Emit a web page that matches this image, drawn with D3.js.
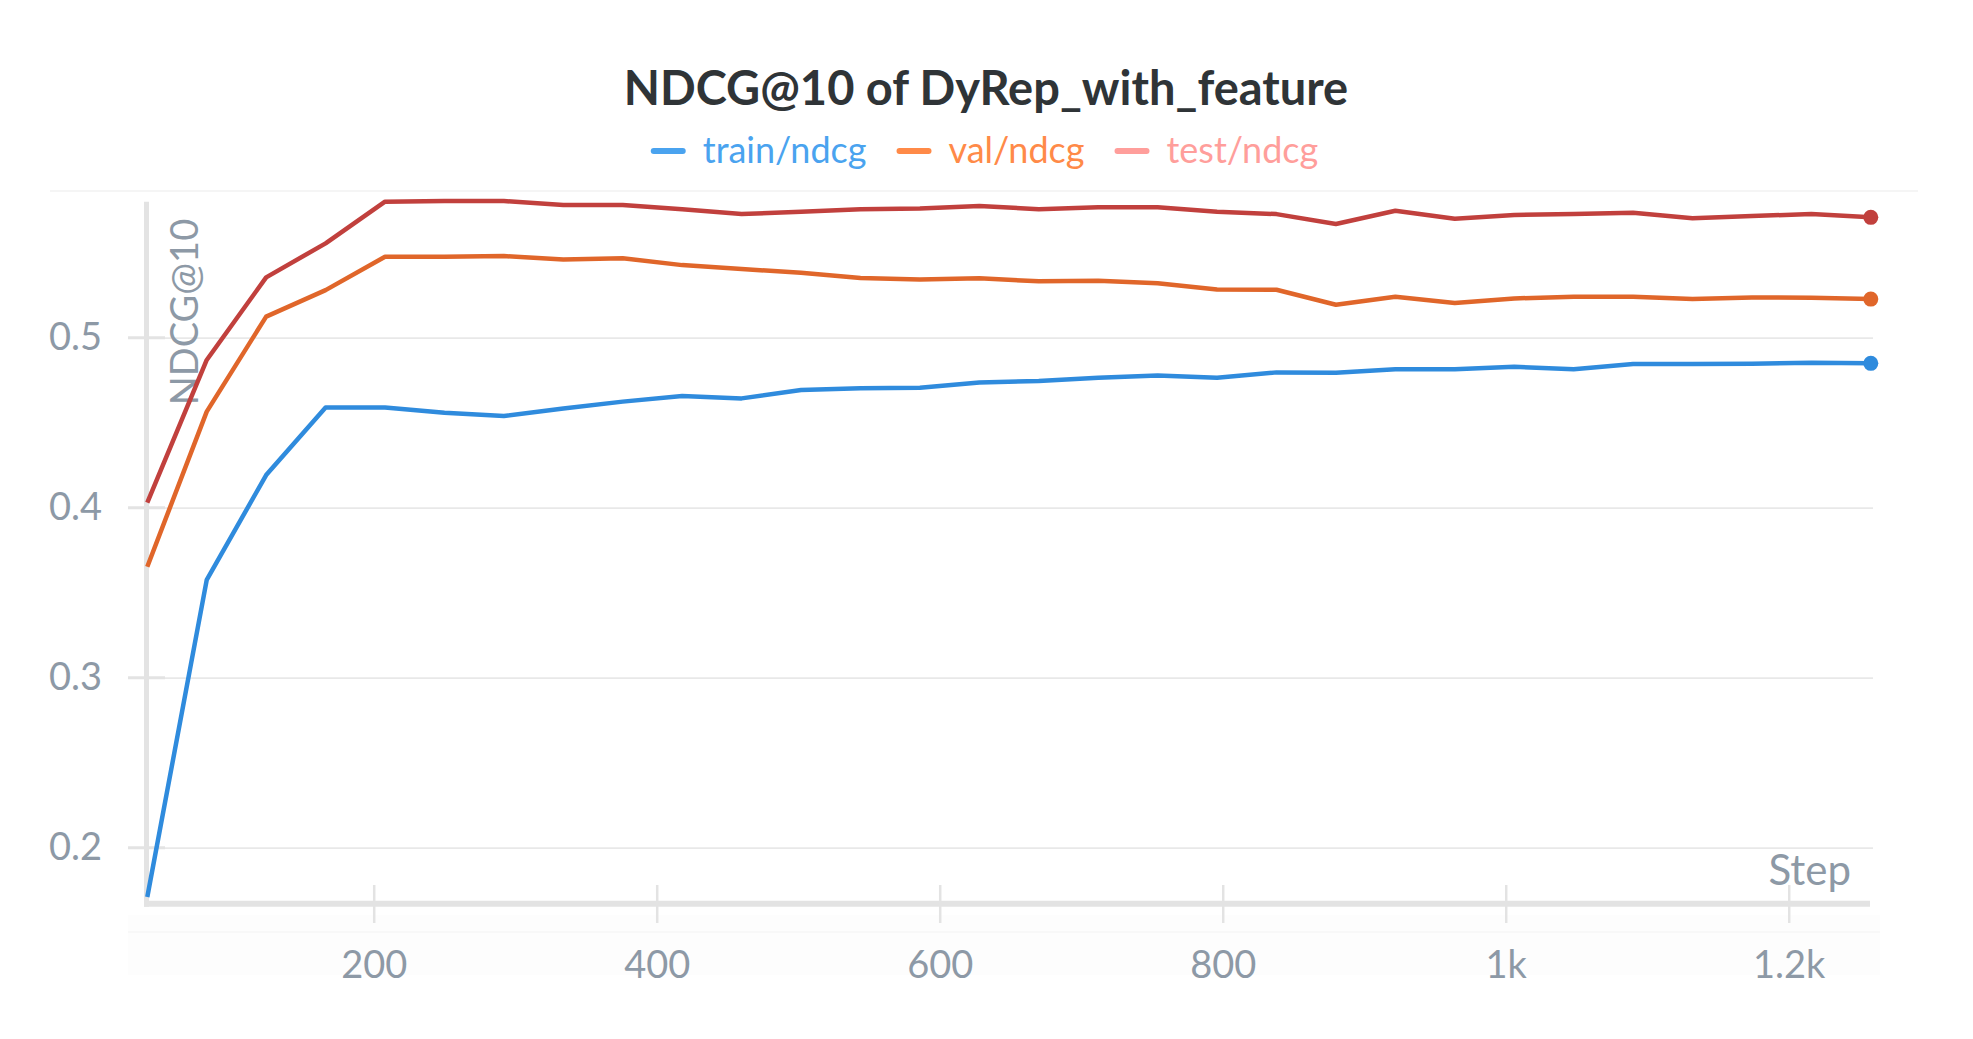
<!DOCTYPE html>
<html><head><meta charset="utf-8">
<script src="https://cdn.jsdelivr.net/npm/d3@7"></script>
<style>html,body{margin:0;padding:0;background:#fff;} svg{display:block}</style>
</head><body>
<script>
const chartTitle = "NDCG@10 of DyRep_with_feature";
const seriesNames = ["train/ndcg", "val/ndcg", "test/ndcg"];
const steps = [40, 82, 124, 166, 208, 250, 292, 334, 376, 418, 460, 502, 544, 586, 628, 670, 712, 754, 796, 838, 880, 922, 964, 1006, 1048, 1090, 1132, 1174, 1216, 1258];
const trainNdcg = [0.171, 0.3575, 0.4192, 0.459, 0.459, 0.4559, 0.4539, 0.4584, 0.4624, 0.4657, 0.4643, 0.4692, 0.4702, 0.4706, 0.4737, 0.4745, 0.4765, 0.4778, 0.4765, 0.4796, 0.4794, 0.4814, 0.4814, 0.4829, 0.4814, 0.4845, 0.4845, 0.4847, 0.4853, 0.4849];
const valNdcg = [0.3653, 0.4565, 0.5124, 0.528, 0.5476, 0.5476, 0.548, 0.546, 0.5467, 0.5427, 0.5404, 0.5382, 0.5351, 0.5343, 0.5349, 0.5332, 0.5335, 0.532, 0.5284, 0.5282, 0.5194, 0.5241, 0.5204, 0.5231, 0.5241, 0.5241, 0.5227, 0.5237, 0.5235, 0.5227];
const testNdcg = [0.403, 0.4869, 0.5355, 0.5555, 0.580, 0.5804, 0.5804, 0.578, 0.578, 0.5755, 0.5727, 0.5741, 0.5755, 0.576, 0.5775, 0.5756, 0.5767, 0.5767, 0.5741, 0.5727, 0.5669, 0.5747, 0.570, 0.5722, 0.5727, 0.5735, 0.5702, 0.5716, 0.5727, 0.5708];
const xTickValues = [200, 400, 600, 800, 1000, 1200];
const xTickLabels = ["200", "400", "600", "800", "1k", "1.2k"];
const yTickValues = [0.2, 0.3, 0.4, 0.5];
const yTickLabels = ["0.2", "0.3", "0.4", "0.5"];
const yAxisTitle = "NDCG@10";
const xAxisTitle = "Step";

(function () {
const W = 1973, H = 1039;
const FONT = "Lato, 'Open Sans', sans-serif";
const lineColors = ["#2f8bdd", "#e0662a", "#c1403d"];
const legendColors = ["#4aa3ef", "#ff8a48", "#ff9e9b"];
const tickColor = "#8d99a6";
const axisColor = "#e3e3e3";

const pLeft = 147.3, pRight = 1870.8, pTop = 201.7, pBottom = 903.3;
const x = d3.scaleLinear().domain([40, 1258]).range([pLeft, pRight]);
const y = d3.scaleLinear().domain([0.1673, 0.58]).range([pBottom, pTop]);

const svg = d3.select("body").append("svg").attr("width", W).attr("height", H)
  .style("background", "#fff");

// faint panel frame
svg.append("line").attr("x1", 50).attr("x2", 1918).attr("y1", 191).attr("y2", 191)
  .attr("stroke", "#f5f5f5").attr("stroke-width", 2);
svg.append("rect").attr("x", 128).attr("y", 915).attr("width", 1752).attr("height", 60)
  .attr("fill", "#fdfdfd");
svg.append("line").attr("x1", 128).attr("x2", 1880).attr("y1", 932).attr("y2", 932)
  .attr("stroke", "#f8f8f8").attr("stroke-width", 2);

// y gridlines + labels
const yAxisG = svg.append("g").attr("transform", `translate(128,0)`)
  .call(d3.axisLeft(y).tickValues(yTickValues)
    .tickFormat((d, i) => yTickLabels[i])
    .tickSizeInner(-(1873 - 128)).tickSizeOuter(0).tickPadding(26));
yAxisG.select(".domain").remove();
yAxisG.selectAll(".tick line").attr("stroke", "#e8e8e8").attr("stroke-width", 1.8);
yAxisG.selectAll(".tick text").attr("fill", tickColor).style("font-family", FONT)
  .style("font-size", "38px");
svg.append("g").selectAll("line").data(yTickValues).join("line")
  .attr("x1", 128).attr("x2", 165).attr("y1", d => y(d)).attr("y2", d => y(d))
  .attr("stroke", axisColor).attr("stroke-width", 3);

// x axis
const xAxisG = svg.append("g").attr("transform", `translate(0,903.7)`)
  .call(d3.axisBottom(x).tickValues(xTickValues)
    .tickFormat((d, i) => xTickLabels[i]).tickSize(0).tickPadding(47));
xAxisG.select(".domain").remove();
xAxisG.selectAll(".tick text").attr("fill", tickColor).style("font-family", FONT)
  .style("font-size", "38px");
xAxisG.selectAll(".tick").append("line").attr("y1", -18.7).attr("y2", 19.3)
  .attr("stroke", axisColor).attr("stroke-width", 2.5);

// axis lines
svg.append("line").attr("x1", 146.5).attr("x2", 146.5).attr("y1", pTop).attr("y2", 906.7)
  .attr("stroke", axisColor).attr("stroke-width", 5);
svg.append("line").attr("x1", 144).attr("x2", 1870).attr("y1", 903.7).attr("y2", 903.7)
  .attr("stroke", axisColor).attr("stroke-width", 6);

// axis titles
svg.append("text").attr("transform", "translate(198,312) rotate(-90)")
  .attr("text-anchor", "middle").attr("fill", tickColor)
  .style("font-family", FONT).style("font-size", "38px").text(yAxisTitle);
svg.append("text").attr("x", 1851).attr("y", 885).attr("text-anchor", "end")
  .attr("fill", tickColor).style("font-family", FONT).style("font-size", "42px")
  .text(xAxisTitle);

// lines
const seriesData = [trainNdcg, valNdcg, testNdcg];
const line = d3.line().x((d, i) => x(steps[i])).y(d => y(d));
seriesData.forEach((vals, si) => {
  svg.append("path").datum(vals).attr("d", line).attr("fill", "none")
    .attr("stroke", lineColors[si]).attr("stroke-width", 4.5)
    .attr("stroke-linejoin", "round").attr("stroke-linecap", "butt");
  const li = vals.length - 1;
  svg.append("circle").attr("cx", x(steps[li])).attr("cy", y(vals[li])).attr("r", 7.5)
    .attr("fill", lineColors[si]);
});

// title
svg.append("text").attr("x", 986).attr("y", 105).attr("text-anchor", "middle")
  .attr("fill", "#2f3437").style("font-family", FONT).style("font-weight", "700")
  .style("font-size", "47px").text(chartTitle);

// legend
const legend = svg.append("g");
const items = legend.selectAll("g").data(seriesNames).join("g");
items.append("line").attr("x1", 0).attr("x2", 29).attr("y1", 0).attr("y2", 0)
  .attr("stroke", (d, i) => legendColors[i]).attr("stroke-width", 6)
  .attr("stroke-linecap", "round");
items.append("text").attr("x", 49).attr("y", 12).attr("fill", (d, i) => legendColors[i])
  .style("font-family", FONT).style("font-size", "36px").text(d => d);
const widths = [];
items.each(function () { widths.push(49 + d3.select(this).select("text").node().getComputedTextLength()); });
const gap = 33;
const total = d3.sum(widths) + gap * (widths.length - 1);
let start = 986 - total / 2;
items.attr("transform", (d, i) => {
  const t = `translate(${start},151)`;
  start += widths[i] + gap;
  return t;
});
})();
</script>
</body></html>
